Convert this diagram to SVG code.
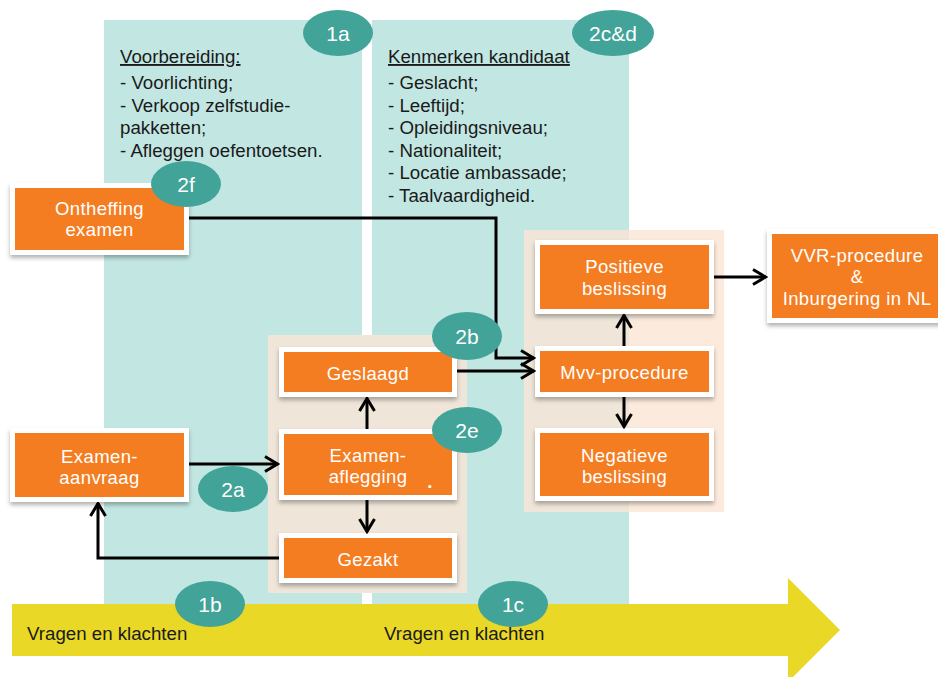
<svg xmlns="http://www.w3.org/2000/svg" width="938" height="677" viewBox="0 0 938 677">
<style>
.col{fill:#C2E7E3}
.box rect{fill:#F47D22;stroke:#FFFFFF;stroke-width:5;filter:url(#sh)}
.box text{fill:#FFFFFF;font-family:"Liberation Sans",Arial,sans-serif;font-size:18.5px;text-anchor:middle;letter-spacing:0.4px}
.badge ellipse{fill:#42A398}
.badge text{fill:#FFFFFF;font-family:"Liberation Sans",Arial,sans-serif;font-size:21px;text-anchor:middle}
.lbl{fill:#1A1A1A;font-family:"Liberation Sans",Arial,sans-serif;font-size:18.7px}
.conn path{fill:none;stroke:#000;stroke-width:3}
</style>
<defs>
<filter id="sh" x="-10%" y="-10%" width="120%" height="140%">
<feDropShadow dx="0" dy="3" stdDeviation="2" flood-color="#000" flood-opacity="0.3"/>
</filter>
<marker id="ah" markerUnits="userSpaceOnUse" viewBox="0 0 16 18" markerWidth="16" markerHeight="18" refX="14.5" refY="9" orient="auto">
<path d="M1.5,1.5 L14,9 L1.5,16.5" fill="none" stroke="#000" stroke-width="3"/>
</marker>
</defs>
<rect width="938" height="677" fill="#FFFFFF"/>
<g id="columns">
<rect class="col" x="104" y="20" width="258" height="590"/>
<rect class="col" x="372" y="20" width="257" height="590"/>
</g>
<g id="panels">
<rect x="268" y="335" width="199" height="258" fill="#EFE5D8"/>
<rect x="524" y="230" width="105" height="282" fill="#EFE5D8"/>
<rect x="629" y="230" width="95" height="282" fill="#FCEADD"/>
</g>
<g id="banner">
<polygon points="12,604 788,604 788,578 840,630 788,682 788,656 12,656" fill="#E9D826"/>
<text class="lbl" x="27" y="640">Vragen en klachten</text>
<text class="lbl" x="384" y="640">Vragen en klachten</text>
</g>
<g id="notes">
<text class="lbl" x="120" y="63" text-decoration="underline">Voorbereiding:</text>
<text class="lbl" x="120" y="89">- Voorlichting;</text>
<text class="lbl" x="120" y="111.5">- Verkoop zelfstudie-</text>
<text class="lbl" x="120" y="134">pakketten;</text>
<text class="lbl" x="120" y="156.5">- Afleggen oefentoetsen.</text>
<text class="lbl" x="388" y="63" text-decoration="underline">Kenmerken kandidaat</text>
<text class="lbl" x="388" y="89">- Geslacht;</text>
<text class="lbl" x="388" y="111.5">- Leeftijd;</text>
<text class="lbl" x="388" y="134">- Opleidingsniveau;</text>
<text class="lbl" x="388" y="156.5">- Nationaliteit;</text>
<text class="lbl" x="388" y="179">- Locatie ambassade;</text>
<text class="lbl" x="388" y="201.5">- Taalvaardigheid.</text>
</g>
<g id="ontheffing" class="box">
<rect x="12.5" y="185.5" width="174" height="67"/>
<text x="99.5" y="215">Ontheffing</text>
<text x="99.5" y="236">examen</text>
</g>
<g id="examenaanvraag" class="box">
<rect x="12.5" y="430.5" width="174" height="69"/>
<text x="99.5" y="463">Examen-</text>
<text x="99.5" y="484">aanvraag</text>
</g>
<g id="geslaagd" class="box">
<rect x="281.5" y="349.5" width="173" height="45"/>
<text x="368" y="380">Geslaagd</text>
</g>
<g id="examenaflegging" class="box">
<rect x="281.5" y="431.5" width="173" height="66"/>
<text x="368" y="462">Examen-</text>
<text x="368" y="483">aflegging</text>
<text x="430" y="488" style="font-weight:bold">.</text>
</g>
<g id="gezakt" class="box">
<rect x="281.5" y="535.5" width="173" height="45"/>
<text x="368" y="566">Gezakt</text>
</g>
<g id="positieve" class="box">
<rect x="537.5" y="242.5" width="174" height="69"/>
<text x="624.5" y="273">Positieve</text>
<text x="624.5" y="295">beslissing</text>
</g>
<g id="mvv" class="box">
<rect x="537.5" y="348.5" width="174" height="46"/>
<text x="624.5" y="379">Mvv-procedure</text>
</g>
<g id="negatieve" class="box">
<rect x="537.5" y="430.5" width="174" height="68"/>
<text x="624.5" y="462">Negatieve</text>
<text x="624.5" y="483">beslissing</text>
</g>
<g id="vvr" class="box">
<rect x="769.5" y="231.5" width="180" height="89"/>
<text x="857" y="262">VVR-procedure</text>
<text x="857" y="283">&amp;</text>
<text x="857" y="305">Inburgering in NL</text>
</g>
<g id="connectors" class="conn">
<path d="M189,218 H496 V358 H534" marker-end="url(#ah)"/>
<path d="M457,371 H534" marker-end="url(#ah)"/>
<path d="M189,464 H278" marker-end="url(#ah)"/>
<path d="M367,429 V398" marker-end="url(#ah)"/>
<path d="M367,500 V532" marker-end="url(#ah)"/>
<path d="M279,558 H98 V503" marker-end="url(#ah)"/>
<path d="M624,346 V315" marker-end="url(#ah)"/>
<path d="M624,397 V427" marker-end="url(#ah)"/>
<path d="M714,277 H766" marker-end="url(#ah)"/>
</g>
<g id="badges" class="badge">
<g id="b1a"><ellipse cx="338" cy="33" rx="35" ry="23"/><text x="338" y="41">1a</text></g>
<g id="b2cd"><ellipse cx="613" cy="33" rx="41" ry="23"/><text x="613" y="41">2c&amp;d</text></g>
<g id="b2f"><ellipse cx="186" cy="184" rx="35" ry="23"/><text x="186" y="192">2f</text></g>
<g id="b2b"><ellipse cx="467" cy="336" rx="35" ry="24"/><text x="467" y="344">2b</text></g>
<g id="b2e"><ellipse cx="467" cy="430" rx="35" ry="23"/><text x="467" y="438">2e</text></g>
<g id="b2a"><ellipse cx="233" cy="489" rx="35" ry="23"/><text x="233" y="497">2a</text></g>
<g id="b1b"><ellipse cx="210" cy="604" rx="35" ry="23"/><text x="210" y="612">1b</text></g>
<g id="b1c"><ellipse cx="513" cy="604" rx="35" ry="23"/><text x="513" y="612">1c</text></g>
</g>
</svg>
